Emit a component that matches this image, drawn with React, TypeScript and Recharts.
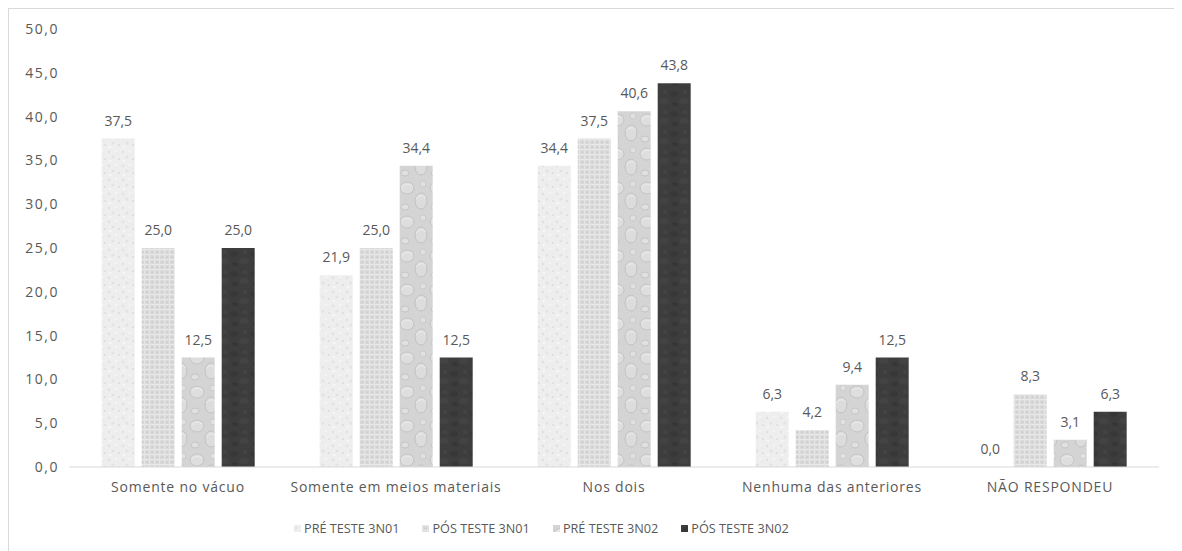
import React from 'react';
import { BarChart, Bar, XAxis, YAxis, LabelList } from 'recharts';

const categorias = [
  'Somente no vácuo',
  'Somente em meios materiais',
  'Nos dois',
  'Nenhuma das anteriores',
  'NÃO RESPONDEU',
];

const preTeste3N01 = [37.5, 21.9, 34.4, 6.3, 0.0];
const posTeste3N01 = [25.0, 25.0, 37.5, 4.2, 8.3];
const preTeste3N02 = [12.5, 34.4, 40.6, 9.4, 3.1];
const posTeste3N02 = [25.0, 12.5, 43.8, 12.5, 6.3];

const yTicks = [0, 5, 10, 15, 20, 25, 30, 35, 40, 45, 50];

const series = [
  { key: 'pre1', name: 'PRÉ TESTE 3N01', fill: 'url(#texPre1)' },
  { key: 'pos1', name: 'PÓS TESTE 3N01', fill: 'url(#texPos1)' },
  { key: 'pre2', name: 'PRÉ TESTE 3N02', fill: 'url(#texPre2)' },
  { key: 'pos2', name: 'PÓS TESTE 3N02', fill: 'url(#texPos2)' },
];

const data = categorias.map((c, i) => ({
  categoria: c,
  pre1: preTeste3N01[i],
  pos1: posTeste3N01[i],
  pre2: preTeste3N02[i],
  pos2: posTeste3N02[i],
}));

const FONT = '"Open Sans", "Noto Sans", sans-serif';
const TEXT = '#595959';
const fmt = (v: any) => Number(v).toFixed(1).replace('.', ',');

// textured fills, roughly like the office "texture" presets
function Textures() {
  return (
    <defs>
      {/* light speckled paper */}
      <pattern id="texPre1" width="14" height="14" patternUnits="userSpaceOnUse">
        <rect width="14" height="14" fill="#eeeeee" />
        <circle cx="2" cy="3" r="1.2" fill="#e0e0e0" />
        <circle cx="9" cy="2" r="1" fill="#f8f8f8" />
        <circle cx="6" cy="8" r="1.5" fill="#e3e3e3" />
        <circle cx="12" cy="10" r="1.1" fill="#dddddd" />
        <circle cx="3" cy="12" r="1" fill="#fafafa" />
        <circle cx="11" cy="5" r="0.8" fill="#e5e5e5" />
      </pattern>
      {/* woven grid */}
      <pattern id="texPos1" width="5" height="5" patternUnits="userSpaceOnUse">
        <rect width="5" height="5" fill="#d8d8d8" />
        <rect x="0" y="0" width="5" height="1.2" fill="#e9e9e9" />
        <rect x="0" y="0" width="1.2" height="5" fill="#e5e5e5" />
        <rect x="2.5" y="2.5" width="1.5" height="1.5" fill="#cccccc" />
      </pattern>
      {/* water droplets */}
      <pattern id="texPre2" width="30" height="34" patternUnits="userSpaceOnUse">
        <rect width="30" height="34" fill="#d4d4d4" />
        <ellipse cx="8" cy="9" rx="7" ry="6" fill="#dedede" stroke="#c4c4c4" strokeWidth="1" />
        <ellipse cx="22" cy="22" rx="6" ry="8" fill="#dcdcdc" stroke="#c2c2c2" strokeWidth="1" />
        <ellipse cx="6" cy="28" rx="4" ry="3" fill="#e0e0e0" stroke="#c6c6c6" strokeWidth="1" />
        <ellipse cx="24" cy="5" rx="3" ry="3" fill="#e0e0e0" stroke="#c6c6c6" strokeWidth="0.8" />
        <path d="M3 8 Q8 3 13 7" stroke="#ececec" strokeWidth="1" fill="none" />
        <path d="M17 20 Q22 14 27 19" stroke="#ececec" strokeWidth="1" fill="none" />
      </pattern>
      {/* dark granite */}
      <pattern id="texPos2" width="20" height="20" patternUnits="userSpaceOnUse">
        <rect width="20" height="20" fill="#3d3d3d" />
        <ellipse cx="5" cy="5" rx="4" ry="3" fill="#373737" />
        <ellipse cx="15" cy="12" rx="5" ry="3" fill="#434343" />
        <ellipse cx="6" cy="15" rx="3" ry="2" fill="#363636" />
        <ellipse cx="16" cy="3" rx="2" ry="2" fill="#444444" />
      </pattern>
    </defs>
  );
}

function Legenda() {
  return (
    <div
      style={{
        position: 'absolute',
        top: 510,
        left: 285,
        display: 'flex',
        gap: 23,
        fontFamily: FONT,
        fontSize: 12.7,
        color: TEXT,
        whiteSpace: 'nowrap',
      }}
    >
      {series.map(s => (
        <div key={s.key} style={{ display: 'flex', alignItems: 'center', gap: 3 }}>
          <svg width={7} height={7}>
            <rect width={7} height={7} fill={s.fill} />
          </svg>
          <span>{s.name}</span>
        </div>
      ))}
    </div>
  );
}

export default function App() {
  return (
    <div
      style={{
        position: 'relative',
        width: 1180,
        height: 560,
        border: '1px solid #d9d9d9',
        boxSizing: 'border-box',
        background: '#fff',
      }}
    >
      <BarChart
        width={1178}
        height={558}
        data={data}
        margin={{ top: 20, right: 28, left: 10, bottom: 70 }}
        barCategoryGap="15%"
        barGap={7}
      >
        <Textures />
        <XAxis
          dataKey="categoria"
          tickLine={false}
          axisLine={{ stroke: '#d9d9d9' }}
          tick={{ fill: TEXT, fontSize: 14, fontFamily: FONT, letterSpacing: 0.8 }}
          tickMargin={9}
          height={30}
        />
        <YAxis
          domain={[0, 50]}
          ticks={yTicks}
          tickFormatter={fmt}
          axisLine={false}
          tickLine={false}
          width={50}
          tickMargin={4}
          tick={{ fill: TEXT, fontSize: 14, fontFamily: FONT, letterSpacing: 1.5 }}
        />
        {series.map(s => (
          <Bar
            key={s.key}
            dataKey={s.key}
            name={s.name}
            fill={s.fill}
            minPointSize={0.01}
            isAnimationActive={false}
          >
            <LabelList
              dataKey={s.key}
              position="top"
              offset={13}
              formatter={fmt}
              style={{ fill: TEXT, fontSize: 14, fontFamily: FONT }}
            />
          </Bar>
        ))}
      </BarChart>
      <Legenda />
    </div>
  );
}
